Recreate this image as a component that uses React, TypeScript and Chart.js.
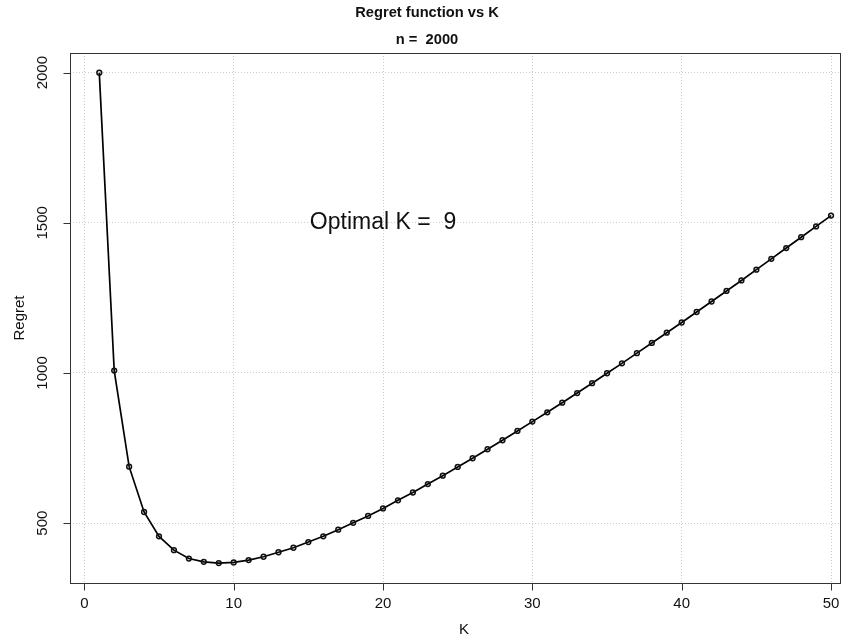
import React, { useEffect, useRef } from "react";
import { Chart, registerables } from "chart.js";

Chart.register(...registerables);

const kValues = [1, 2, 3, 4, 5, 6, 7, 8, 9, 10, 11, 12, 13, 14, 15, 16, 17, 18, 19, 20, 21, 22, 23, 24, 25, 26, 27, 28, 29, 30, 31, 32, 33, 34, 35, 36, 37, 38, 39, 40, 41, 42, 43, 44, 45, 46, 47, 48, 49, 50];
const regretValues = [2000, 1008, 688, 537, 456, 410, 382, 371, 367, 369, 377, 388, 403, 418, 437, 456, 478, 501, 524, 549, 576, 602, 630, 658, 687, 716, 746, 776, 807, 838, 869, 901, 933, 966, 999, 1032, 1066, 1100, 1134, 1168, 1203, 1238, 1273, 1308, 1344, 1380, 1416, 1452, 1488, 1524];
const xTicks = [0, 10, 20, 30, 40, 50];
const yTicks = [500, 1000, 1500, 2000];
const titleText = "Regret function vs K";
const subtitleText = "n =  2000";
const xLabel = "K";
const yLabel = "Regret";
const optimalK = 9;
const annotation = { x: 20, y: 1500, text: `Optimal K =  ${optimalK}` };

const FONT = "'Liberation Sans', Arial, sans-serif";

const rAxesPlugin = {
  id: "rAxes",
  afterDraw(chart: any) {
    const { ctx, chartArea } = chart;
    const xs = chart.scales.x;
    const ys = chart.scales.y;
    ctx.save();
    // box
    ctx.strokeStyle = "#333";
    ctx.lineWidth = 1;
    const l = Math.round(chartArea.left) + 0.5;
    const t = Math.round(chartArea.top) + 0.5;
    const r = Math.round(chartArea.right) + 0.5;
    const b = Math.round(chartArea.bottom) + 0.5;
    ctx.strokeRect(l, t, r - l, b - t);
    // x ticks
    ctx.fillStyle = "#111";
    ctx.font = `15px ${FONT}`;
    ctx.textAlign = "center";
    ctx.textBaseline = "middle";
    ctx.beginPath();
    for (const v of xTicks) {
      const px = Math.round(xs.getPixelForValue(v)) + 0.5;
      ctx.moveTo(px, b);
      ctx.lineTo(px, b + 7);
    }
    ctx.stroke();
    for (const v of xTicks) {
      ctx.fillText(String(v), xs.getPixelForValue(v), chartArea.bottom + 21);
    }
    // y ticks
    ctx.beginPath();
    for (const v of yTicks) {
      const py = Math.round(ys.getPixelForValue(v)) + 0.5;
      ctx.moveTo(l, py);
      ctx.lineTo(l - 7, py);
    }
    ctx.stroke();
    for (const v of yTicks) {
      ctx.save();
      ctx.translate(chartArea.left - 27, ys.getPixelForValue(v));
      ctx.rotate(-Math.PI / 2);
      ctx.fillText(String(v), 0, 0);
      ctx.restore();
    }
    // axis labels
    ctx.fillText(xLabel, 464, chartArea.bottom + 47);
    ctx.save();
    ctx.translate(20, (chartArea.top + chartArea.bottom) / 2);
    ctx.rotate(-Math.PI / 2);
    ctx.fillText(yLabel, 0, 0);
    ctx.restore();
    // titles
    ctx.font = `bold 14.7px ${FONT}`;
    ctx.fillText(titleText, 427, 13);
    ctx.fillText(subtitleText, 427, 40);
    // annotation
    ctx.font = `23px ${FONT}`;
    ctx.fillText(annotation.text, xs.getPixelForValue(annotation.x), ys.getPixelForValue(annotation.y));
    ctx.restore();
  },
};

export default function App() {
  const ref = useRef<HTMLCanvasElement | null>(null);
  useEffect(() => {
    if (!ref.current) return;
    const chart = new Chart(ref.current, {
      type: "line",
      data: {
        datasets: [
          {
            data: kValues.map((k, i) => ({ x: k, y: regretValues[i] })),
            borderColor: "#000",
            borderWidth: 1.7,
            tension: 0,
            pointRadius: 2.4,
            pointBorderWidth: 1.5,
            pointBorderColor: "#111",
            pointBackgroundColor: "rgba(0,0,0,0)",
          },
        ],
      },
      options: {
        responsive: false,
        animation: false,
        devicePixelRatio: 1,
        layout: { padding: { left: 70, top: 53, right: 14, bottom: 60 } },
        plugins: { legend: { display: false }, tooltip: { enabled: false }, title: { display: false } },
        scales: {
          x: {
            type: "linear",
            min: -0.96,
            max: 50.6,
            afterBuildTicks: (s: any) => {
              s.ticks = xTicks.map((v) => ({ value: v }));
            },
            ticks: { display: false },
            border: { display: false, dash: [1, 2] },
            grid: { color: "#cccccc", lineWidth: 1, drawTicks: false, tickLength: 0 },
          },
          y: {
            type: "linear",
            min: 300.6,
            max: 2065.4,
            afterBuildTicks: (s: any) => {
              s.ticks = yTicks.map((v) => ({ value: v }));
            },
            ticks: { display: false },
            border: { display: false, dash: [1, 2] },
            grid: { color: "#cccccc", lineWidth: 1, drawTicks: false, tickLength: 0 },
          },
        },
      },
      plugins: [rAxesPlugin],
    });
    return () => chart.destroy();
  }, []);
  return (
    <div style={{ position: "absolute", left: 0, top: 0, width: 854, height: 643, overflow: "hidden", background: "#fff" }}>
      <canvas ref={ref} width={854} height={643} style={{ width: 854, height: 643, display: "block" }} />
    </div>
  );
}
